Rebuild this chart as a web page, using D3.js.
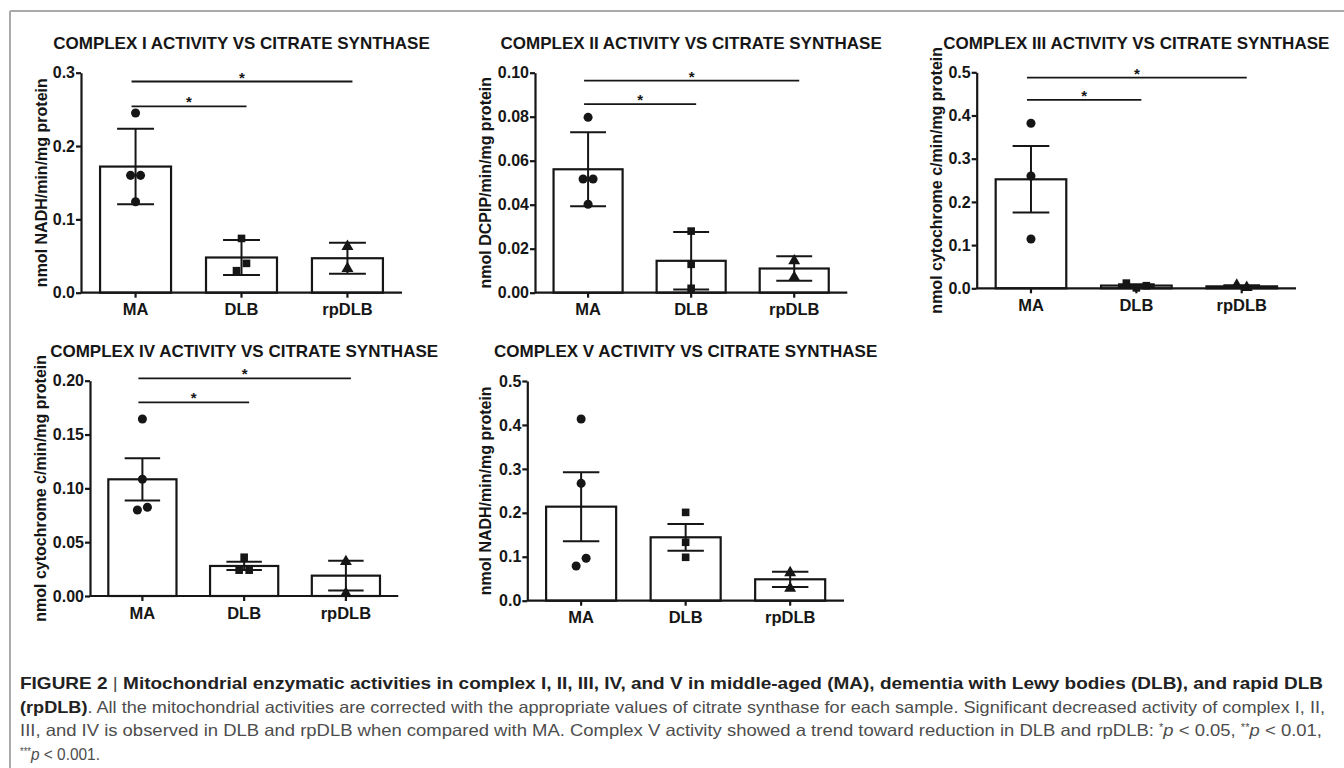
<!DOCTYPE html>
<html>
<head>
<meta charset="utf-8">
<script src="https://cdn.jsdelivr.net/npm/d3@7"></script>
<style>
body{margin:0;background:#fff}
text{font-family:"Liberation Sans",Arial,sans-serif}
</style>
</head>
<body>
<svg id="chart" width="1344" height="768"></svg>
<script>
"use strict"

/**** DATA ****/

let categories = ["MA", "DLB", "rpDLB"]

let complexIMean = [0.172, 0.048, 0.047]
let complexIErr = [0.0515, 0.024, 0.021]
let complexIPoints = [[0.245, 0.160, 0.160, 0.124], [0.074, 0.030, 0.040], [0.063, 0.033]]
let complexISig = [["MA", "DLB", 0.254], ["MA", "rpDLB", 0.288]]
let complexITicks = [0, 0.1, 0.2, 0.3]

let complexIIMean = [0.0561, 0.0145, 0.011]
let complexIIErr = [0.0168, 0.0131, 0.0056]
let complexIIPoints = [[0.0797, 0.0517, 0.0517, 0.0402], [0.028, 0.0129, 0.002], [0.0145, 0.007]]
let complexIISig = [["MA", "DLB", 0.0857], ["MA", "rpDLB", 0.0964]]
let complexIITicks = [0, 0.02, 0.04, 0.06, 0.08, 0.10]

let complexIIIMean = [0.2523, 0.0063, 0.0045]
let complexIIIErr = [0.077, 0.0032, 0.0025]
let complexIIIPoints = [[0.382, 0.260, 0.114], [0.012, 0.001, 0.006], [0.007, 0.002]]
let complexIIISig = [["MA", "DLB", 0.436], ["MA", "rpDLB", 0.4875]]
let complexIIITicks = [0, 0.1, 0.2, 0.3, 0.4, 0.5]

let complexIVMean = [0.1084, 0.0279, 0.0189]
let complexIVErr = [0.0196, 0.0038, 0.0139]
let complexIVPoints = [[0.1644, 0.1084, 0.0799, 0.0824], [0.036, 0.024, 0.024], [0.0319, 0.0025]]
let complexIVSig = [["MA", "DLB", 0.1799], ["MA", "rpDLB", 0.2022]]
let complexIVTicks = [0, 0.05, 0.10, 0.15, 0.20]

let complexVMean = [0.214, 0.1443, 0.0487]
let complexVErr = [0.0786, 0.0304, 0.0174]
let complexVPoints = [[0.4136, 0.267, 0.079, 0.0965], [0.201, 0.133, 0.0988], [0.0637, 0.028]]
let complexVSig = []
let complexVTicks = [0, 0.1, 0.2, 0.3, 0.4, 0.5]

let titles = [
    "COMPLEX I ACTIVITY VS CITRATE SYNTHASE",
    "COMPLEX II ACTIVITY VS CITRATE SYNTHASE",
    "COMPLEX III ACTIVITY VS CITRATE SYNTHASE",
    "COMPLEX IV ACTIVITY VS CITRATE SYNTHASE",
    "COMPLEX V ACTIVITY VS CITRATE SYNTHASE"
]

let yLabels = [
    "nmol NADH/min/mg protein",
    "nmol DCPIP/min/mg protein",
    "nmol cytochrome c/min/mg protein",
    "nmol cytochrome c/min/mg protein",
    "nmol NADH/min/mg protein"
]


/**** LAYOUT ****/

let layout = [
    {left: 81, right: 402, top: 72.7, bottom: 292.7, titleY: 48.5, labelX: 41.7, fmt: ".1f"},
    {left: 535, right: 847.3, top: 72.7, bottom: 292.7, titleY: 48.5, labelX: 485, fmt: ".2f"},
    {left: 976.7, right: 1296, top: 72.3, bottom: 288.3, titleY: 48.5, labelX: 936.7, fmt: ".1f"},
    {left: 90, right: 398.3, top: 380.7, bottom: 596, titleY: 356.5, labelX: 40, fmt: ".2f"},
    {left: 527.3, right: 844, top: 381, bottom: 600.7, titleY: 356.5, labelX: 485, fmt: ".1f"}
]

let panels = [
    {mean: complexIMean, err: complexIErr, points: complexIPoints, sig: complexISig, ticks: complexITicks},
    {mean: complexIIMean, err: complexIIErr, points: complexIIPoints, sig: complexIISig, ticks: complexIITicks},
    {mean: complexIIIMean, err: complexIIIErr, points: complexIIIPoints, sig: complexIIISig, ticks: complexIIITicks},
    {mean: complexIVMean, err: complexIVErr, points: complexIVPoints, sig: complexIVSig, ticks: complexIVTicks},
    {mean: complexVMean, err: complexVErr, points: complexVPoints, sig: complexVSig, ticks: complexVTicks}
]

let shapes = [d3.symbolCircle, d3.symbolSquare, d3.symbolTriangle]
let ink = "#161616"

let svg = d3.select("#chart")

// grey frame on top and left
svg.append("line").attr("x1", 10).attr("y1", 11).attr("x2", 1344).attr("y2", 11)
.attr("stroke", "#aaa").attr("stroke-width", 2)
svg.append("line").attr("x1", 10).attr("y1", 11).attr("x2", 10).attr("y2", 768)
.attr("stroke", "#aaa").attr("stroke-width", 2)


/**** JITTER: spread points that would overlap ****/

function jitter(vals, y, gap) {
    let order = vals.map((v, i) => i).sort((a, b) => vals[a] - vals[b])
    let groups = []
    let cur = [order[0]]
    for (let k = 1; k < order.length; k++) {
        if (Math.abs(y(vals[order[k]]) - y(vals[order[k - 1]])) < 9) cur.push(order[k])
        else { groups.push(cur); cur = [order[k]] }
    }
    groups.push(cur)
    let off = vals.map(() => 0)
    groups.forEach(g => {
        g.sort((a, b) => a - b)
        g.forEach((i, j) => off[i] = (j - (g.length - 1) / 2) * gap)
    })
    return off
}


/**** DRAW PANELS ****/

panels.forEach(function(p, n) {
    let L = layout[n]
    let g = svg.append("g")

    let x = d3.scaleBand()
    .domain(categories)
    .range([L.left, L.right])
    .paddingInner(0.33)
    .paddingOuter(0.18)

    let yMax = p.ticks[p.ticks.length - 1]
    let y = d3.scaleLinear()
    .domain([0, yMax])
    .range([L.bottom, L.top])

    // title
    g.append("text")
    .attr("x", (L.left + L.right) / 2)
    .attr("y", L.titleY)
    .attr("text-anchor", "middle")
    .style("font-size", "17px")
    .style("font-weight", "bold")
    .attr("fill", ink)
    .text(titles[n])

    // y label
    g.append("text")
    .attr("transform", "translate(" + L.labelX + "," + (L.top + L.bottom) / 2 + ") rotate(-90)")
    .attr("text-anchor", "middle")
    .attr("dominant-baseline", "central")
    .style("font-size", "16px")
    .style("font-weight", "bold")
    .attr("fill", ink)
    .text(yLabels[n])

    // bars
    g.selectAll("rect.bar")
    .data(categories)
    .join("rect")
    .attr("class", "bar")
    .attr("x", d => x(d))
    .attr("width", x.bandwidth())
    .attr("y", (d, i) => y(p.mean[i]))
    .attr("height", (d, i) => L.bottom - y(p.mean[i]))
    .attr("fill", "#fff")
    .attr("stroke", ink)
    .attr("stroke-width", 2.2)

    // error bars
    let cap = x.bandwidth() * 0.26
    categories.forEach(function(c, i) {
        let cx = x(c) + x.bandwidth() / 2
        let hi = y(p.mean[i] + p.err[i])
        let lo = y(Math.max(0, p.mean[i] - p.err[i]))
        g.append("line").attr("x1", cx).attr("x2", cx).attr("y1", hi).attr("y2", lo)
        .attr("stroke", ink).attr("stroke-width", 2)
        g.append("line").attr("x1", cx - cap).attr("x2", cx + cap).attr("y1", hi).attr("y2", hi)
        .attr("stroke", ink).attr("stroke-width", 2)
        g.append("line").attr("x1", cx - cap).attr("x2", cx + cap).attr("y1", lo).attr("y2", lo)
        .attr("stroke", ink).attr("stroke-width", 2)
    })

    // individual points
    categories.forEach(function(c, i) {
        let cx = x(c) + x.bandwidth() / 2
        let off = jitter(p.points[i], y, 10)
        g.selectAll("path.pt" + i)
        .data(p.points[i])
        .join("path")
        .attr("class", "pt" + i)
        .attr("d", d3.symbol().type(shapes[i]).size(i == 2 ? 62 : (i == 1 ? 58 : 64)))
        .attr("transform", (d, k) => "translate(" + (cx + off[k]) + "," + y(d) + ")")
        .attr("fill", ink)
    })

    // axes
    let yAxis = d3.axisLeft(y)
    .tickValues(p.ticks)
    .tickFormat(d3.format(L.fmt))
    .tickSize(5)
    .tickSizeOuter(0)
    .tickPadding(1)

    let xAxis = d3.axisBottom(x)
    .tickSize(5)
    .tickSizeOuter(0)
    .tickPadding(6)

    let ya = g.append("g").attr("transform", "translate(" + L.left + ",0)").call(yAxis)
    let xa = g.append("g").attr("transform", "translate(0," + L.bottom + ")").call(xAxis)

    // x axis line starts at the y axis
    xa.select(".domain").remove()
    xa.append("line").attr("x1", L.left).attr("x2", L.right).attr("y1", 0).attr("y2", 0)
    .attr("stroke", ink).attr("stroke-width", 2.2)

    ;[ya, xa].forEach(a => {
        a.selectAll("path, line").attr("stroke", ink).attr("stroke-width", 2.2)
        a.selectAll("text").attr("fill", ink).style("font-weight", "bold")
        .style("font-family", "'Liberation Sans',Arial,sans-serif")
    })
    ya.selectAll("text").style("font-size", "16px")
    xa.selectAll("text").style("font-size", "16.5px")

    // significance lines
    p.sig.forEach(function(s) {
        let x1 = x(s[0]) + x.bandwidth() / 2 - 4
        let x2 = x(s[1]) + x.bandwidth() / 2 + 5
        let ly = y(s[2])
        g.append("line").attr("x1", x1).attr("x2", x2).attr("y1", ly).attr("y2", ly)
        .attr("stroke", ink).attr("stroke-width", 1.8)
        g.append("text")
        .attr("x", (x1 + x2) / 2)
        .attr("y", ly + 1)
        .attr("text-anchor", "middle")
        .style("font-size", "15px")
        .style("font-weight", "bold")
        .attr("fill", ink)
        .text("*")
    })
})


/**** CAPTION ****/

let capX = 20
let capW = 1303
let capFont = "'Liberation Sans',Arial,sans-serif"

function capLine(yPos, parts, width) {
    let t = svg.append("text")
    .attr("x", capX)
    .attr("y", yPos)
    .style("font-size", "16.5px")
    .style("font-family", capFont)
    if (width) t.attr("textLength", width).attr("lengthAdjust", "spacingAndGlyphs")
    parts.forEach(function(q) {
        let s = t.append("tspan").text(q.t)
        .attr("fill", q.b ? "#222" : "#4d4d4d")
        .style("font-weight", q.b ? "bold" : "normal")
        if (q.i) s.style("font-style", "italic")
        if (q.sup) s.style("font-size", "10px").attr("dy", -5)
        if (q.down) s.attr("dy", 5)
    })
}

capLine(689, [
    {t: "FIGURE 2 ", b: true},
    {t: "| ", b: false},
    {t: "Mitochondrial enzymatic activities in complex I, II, III, IV, and V in middle-aged (MA), dementia with Lewy bodies (DLB), and rapid DLB", b: true}
], capW)

capLine(712.5, [
    {t: "(rpDLB)", b: true},
    {t: ". All the mitochondrial activities are corrected with the appropriate values of citrate synthase for each sample. Significant decreased activity of complex I, II,"}
], capW + 2)

capLine(736, [
    {t: "III, and IV is observed in DLB and rpDLB when compared with MA. Complex V activity showed a trend toward reduction in DLB and rpDLB: "},
    {t: "*", sup: true},
    {t: "p", i: true, down: true},
    {t: " < 0.05, "},
    {t: "**", sup: true},
    {t: "p", i: true, down: true},
    {t: " < 0.01,"}
], capW - 1)

capLine(759.5, [
    {t: "***", sup: true},
    {t: "p", i: true, down: true},
    {t: " < 0.001."}
], 80)
</script>
</body>
</html>
